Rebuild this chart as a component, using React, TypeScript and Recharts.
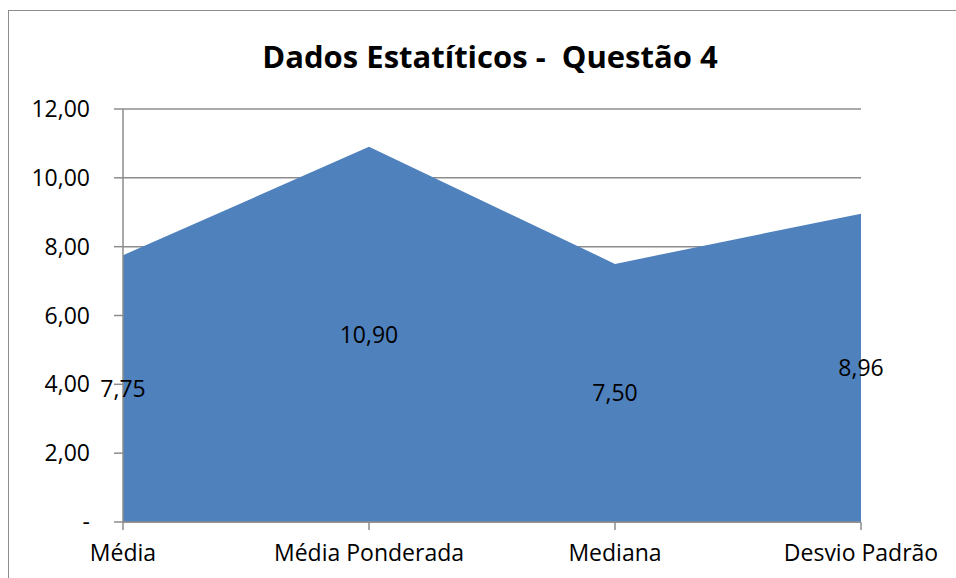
import React from "react";
import { AreaChart, Area, XAxis, YAxis, CartesianGrid, LabelList } from "recharts";

const categories = ["Média", "Média Ponderada", "Mediana", "Desvio Padrão"];
const values = [7.75, 10.9, 7.5, 8.96];
const yTicks = [0, 2, 4, 6, 8, 10, 12];

const data = categories.map((name, i) => ({ name, value: values[i] }));

const W = 956;
const H = 578;
const X_AXIS_H = 56;
const MARGIN = { top: 109, right: 95, bottom: 0, left: 0 };
const PLOT_BOTTOM = H - MARGIN.bottom - X_AXIS_H;
const FONT = "'Open Sans', sans-serif";
const GRID = "#8c8c8c";

const fmt = (v: number) => (v === 0 ? "-" : v.toFixed(2).replace(".", ","));

// Excel puts the area labels halfway between the value and the baseline
const MidLabel = (props: any) => {
  const { x, y, value } = props;
  const midY = y + (PLOT_BOTTOM - y) / 2;
  return (
    <text x={x} y={midY} dy="0.36em" textAnchor="middle" fontSize={23} fontFamily={FONT} fill="#000">
      {fmt(value)}
    </text>
  );
};

const App = () => {
  return (
    <div style={{ position: "absolute", left: 0, top: 0, width: W, height: H, background: "#fff", overflow: "hidden" }}>
      <div
        style={{
          position: "absolute",
          left: 8,
          top: 10,
          width: W,
          height: H,
          borderLeft: `1.5px solid ${GRID}`,
          borderTop: `1.5px solid ${GRID}`,
        }}
      />
      <div
        style={{
          position: "absolute",
          left: 0,
          top: 36,
          width: 980,
          textAlign: "center",
          fontFamily: FONT,
          fontWeight: 700,
          fontSize: 31,
          lineHeight: "40px",
          color: "#000",
          whiteSpace: "pre",
        }}
      >
        {"Dados Estatíticos -  Questão 4"}
      </div>
      <div style={{ position: "absolute", left: 0, top: 0 }}>
        <AreaChart width={W} height={H} data={data} margin={MARGIN}>
          <CartesianGrid horizontal vertical={false} stroke={GRID} strokeWidth={1.5} />
          <XAxis
            dataKey="name"
            height={X_AXIS_H}
            axisLine={{ stroke: GRID, strokeWidth: 1.5 }}
            tickLine={{ stroke: GRID, strokeWidth: 1.5 }}
            tickSize={8}
            tickMargin={15}
            interval={0}
            tick={{ fontSize: 23, fontFamily: FONT, fill: "#000" }}
          />
          <YAxis
            width={123}
            domain={[0, 12]}
            ticks={yTicks}
            tickFormatter={fmt}
            axisLine={{ stroke: GRID, strokeWidth: 1.5 }}
            tickLine={{ stroke: GRID, strokeWidth: 1.5 }}
            tickSize={9}
            tickMargin={24}
            tick={{ fontSize: 23, fontFamily: FONT, fill: "#000" }}
          />
          <Area
            type="linear"
            dataKey="value"
            stroke="none"
            fill="#4f81bd"
            fillOpacity={1}
            isAnimationActive={false}
          >
            <LabelList dataKey="value" content={MidLabel} />
          </Area>
        </AreaChart>
      </div>
    </div>
  );
};

export default App;
